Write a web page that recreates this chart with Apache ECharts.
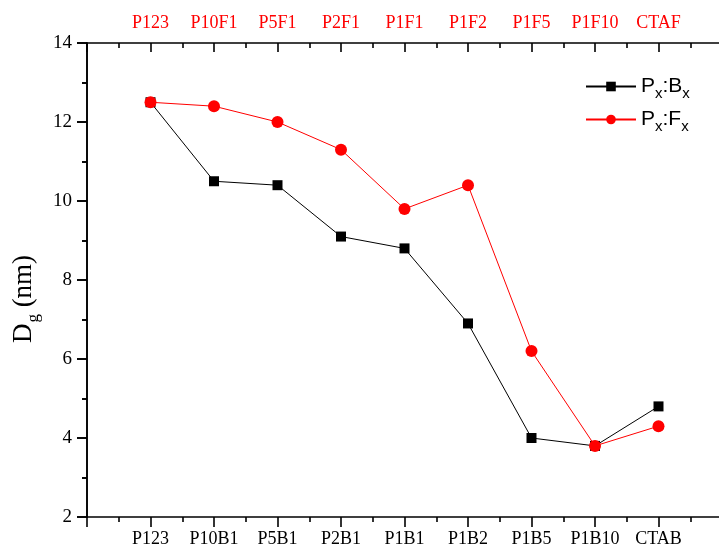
<!DOCTYPE html>
<html>
<head>
<meta charset="utf-8">
<script src="https://cdn.jsdelivr.net/npm/echarts@6/dist/echarts.min.js"></script>
<style>
html,body{margin:0;padding:0;background:#fff;}
#chart{width:719px;height:550px;}
</style>
</head>
<body>
<div id="chart"></div>
<script>
const bottomLabels = ['P123','P10B1','P5B1','P2B1','P1B1','P1B2','P1B5','P1B10','CTAB'];
const topLabels = ['P123','P10F1','P5F1','P2F1','P1F1','P1F2','P1F5','P1F10','CTAF'];
const seriesB = [12.5,10.5,10.4,9.1,8.8,6.9,4.0,3.8,4.8];
const seriesF = [12.5,12.4,12.0,11.3,9.8,10.4,6.2,3.8,4.3];
const nameB = 'Px:Bx';
const nameF = 'Px:Fx';

const serif = '"Liberation Serif","Times New Roman",serif';
const sans = '"Liberation Sans",Arial,sans-serif';

function pairs(vals){ return vals.map((v,i)=>[i+1, v]); }
function labelFor(arr){
  return function(v){
    const i = Math.round(v);
    if (Math.abs(v-i) < 1e-6 && i >= 1 && i <= arr.length) return arr[i-1];
    return '';
  };
}

const chart = echarts.init(document.getElementById('chart'), null, {renderer:'canvas'});
const axisLine = {show:true, lineStyle:{color:'#000', width:1.6}};
chart.setOption({
  backgroundColor:'#ffffff',
  animation:false,
  grid:{left:87, right:-3, top:43, bottom:33, containLabel:false, outerBoundsMode:'none'},
  legend:{
    orient:'vertical', left:580, top:67, itemGap:4,
    itemWidth:50, itemHeight:12,
    data:[nameB, nameF],
    formatter:function(n){
      return n === nameB ? '{a|P}{s|x}{a|:B}{s|x}' : '{a|P}{s|x}{a|:F}{s|x}';
    },
    textStyle:{
      fontFamily:sans, color:'#000',
      rich:{
        a:{fontFamily:sans, fontSize:21, color:'#000', lineHeight:26},
        s:{fontFamily:sans, fontSize:15, color:'#000', lineHeight:26, padding:[14,0,0,0]}
      }
    }
  },
  xAxis:[
    {
      type:'value', position:'bottom', min:0, max:10, interval:1,
      axisLine:axisLine,
      axisTick:{show:true, inside:false, length:10, lineStyle:{color:'#000', width:1.6}},
      minorTick:{show:true, splitNumber:2, length:5, lineStyle:{color:'#000', width:1.6}},
      splitLine:{show:false}, minorSplitLine:{show:false},
      axisLabel:{show:true, margin:13, color:'#000', fontFamily:serif, fontSize:18, formatter:labelFor(bottomLabels)}
    },
    {
      type:'value', position:'top', min:0, max:10, interval:1,
      axisLine:axisLine,
      axisTick:{show:true, inside:true, length:9, lineStyle:{color:'#000', width:1.6}},
      minorTick:{show:true, splitNumber:2, length:5, lineStyle:{color:'#000', width:1.6}},
      splitLine:{show:false}, minorSplitLine:{show:false},
      axisLabel:{show:true, margin:11, color:'#ff0000', fontFamily:serif, fontSize:18, formatter:labelFor(topLabels)}
    }
  ],
  yAxis:[
    {
      type:'value', position:'left', min:2, max:14, interval:2,
      name:'{d|D}{g|g}{d| (nm)}', nameLocation:'middle', nameGap:40, nameRotate:90,
      nameTextStyle:{
        padding:[0,38,0,0],
        rich:{
          d:{fontFamily:serif, fontSize:27, color:'#000', lineHeight:32},
          g:{fontFamily:serif, fontSize:17, color:'#000', lineHeight:32, padding:[20,0,0,1]}
        }
      },
      axisLine:axisLine,
      axisTick:{show:true, inside:false, length:10, lineStyle:{color:'#000', width:1.6}},
      minorTick:{show:true, splitNumber:2, length:5, lineStyle:{color:'#000', width:1.6}},
      splitLine:{show:false}, minorSplitLine:{show:false},
      axisLabel:{show:true, margin:15, color:'#000', fontFamily:serif, fontSize:19}
    },
    {
      type:'value', position:'right', min:2, max:14, interval:2,
      axisLine:axisLine,
      axisTick:{show:true, inside:true, length:10, lineStyle:{color:'#000', width:1.6}},
      minorTick:{show:true, splitNumber:2, length:5, lineStyle:{color:'#000', width:1.6}},
      splitLine:{show:false}, minorSplitLine:{show:false},
      axisLabel:{show:false}
    }
  ],
  series:[
    {
      name:nameB, type:'line', xAxisIndex:0, yAxisIndex:0,
      data:pairs(seriesB),
      symbol:'rect', symbolSize:10,
      itemStyle:{color:'#000'},
      lineStyle:{color:'#000', width:1},
      z:2
    },
    {
      name:nameF, type:'line', xAxisIndex:0, yAxisIndex:0,
      data:pairs(seriesF),
      symbol:'circle', symbolSize:12,
      itemStyle:{color:'#ff0000'},
      lineStyle:{color:'#ff0000', width:1},
      z:3
    }
  ]
});
</script>
</body>
</html>
